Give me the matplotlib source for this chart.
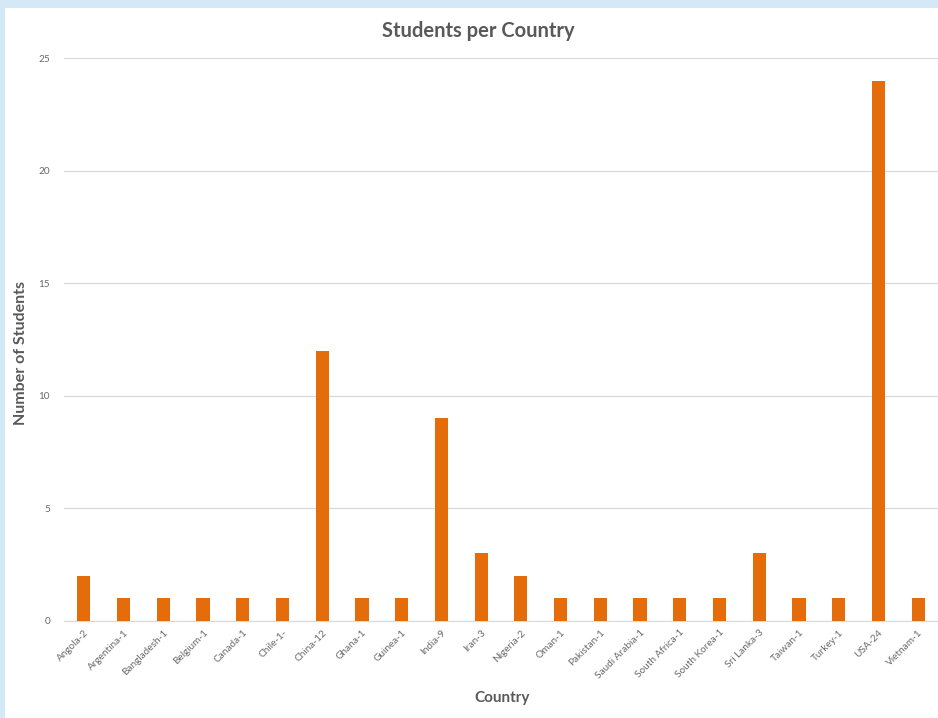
import matplotlib.pyplot as plt
from matplotlib.patches import Rectangle

countries = ["Angola-2", "Argentina-1", "Bangladesh-1", "Belgium-1", "Canada-1", "Chile-1-",
             "China-12", "Ghana-1", "Guinea-1", "India-9", "Iran-3", "Nigeria-2", "Oman-1",
             "Pakistan-1", "Saudi Arabia-1", "South Africa-1", "South Korea-1", "Sri Lanka-3",
             "Taiwan-1", "Turkey-1", "USA-24", "Vietnam-1"]
students = [2, 1, 1, 1, 1, 1, 12, 1, 1, 9, 3, 2, 1, 1, 1, 1, 1, 3, 1, 1, 24, 1]

plt.rcParams['font.family'] = ['Lato', 'DejaVu Sans']
grey = '#595959'

fig = plt.figure(figsize=(9.38, 7.18), dpi=100, facecolor='#d4e8f8')
# white chart area on top of the blue screenshot background
fig.patches.append(Rectangle((5 / 938, 0), 1, 1 - 8 / 718, transform=fig.transFigure,
                             facecolor='white', edgecolor='none', zorder=-5))

ax = fig.add_axes([64 / 938, 97 / 718, 874 / 938, (621 - 58) / 718])
ax.set_facecolor('none')
x = range(len(countries))
ax.bar(x, students, width=0.33, color='#e46c0a', zorder=3)
ax.set_xlim(-0.5, len(countries) - 0.5)
ax.set_ylim(0, 25)
ax.set_yticks([0, 5, 10, 15, 20, 25])
ax.yaxis.grid(True, color='#d9d9d9', linewidth=0.9, zorder=0)
ax.set_axisbelow(True)
for s in ['top', 'right', 'left']:
    ax.spines[s].set_visible(False)
ax.spines['bottom'].set_color('#d9d9d9')
ax.tick_params(axis='both', length=0, colors='#6a6a6a', labelsize=7.2)
ax.tick_params(axis='y', pad=10)
ax.tick_params(axis='x', pad=5)
ax.set_xticks(list(x))
ax.set_xticklabels(countries, rotation=45, ha='right', rotation_mode='anchor')

fig.text(478 / 938, 1 - 31 / 718, 'Students per Country', ha='center', va='center',
         fontsize=14.5, fontweight='bold', color=grey)
fig.text(502 / 938, 1 - 698 / 718, 'Country', ha='center', va='center',
         fontsize=11, fontweight='bold', color=grey)
fig.text(21 / 938, 1 - 353 / 718, 'Number of Students', ha='center', va='center',
         rotation=90, fontsize=11.5, fontweight='bold', color=grey)

fig.savefig('out.png', dpi=100, facecolor=fig.get_facecolor())
